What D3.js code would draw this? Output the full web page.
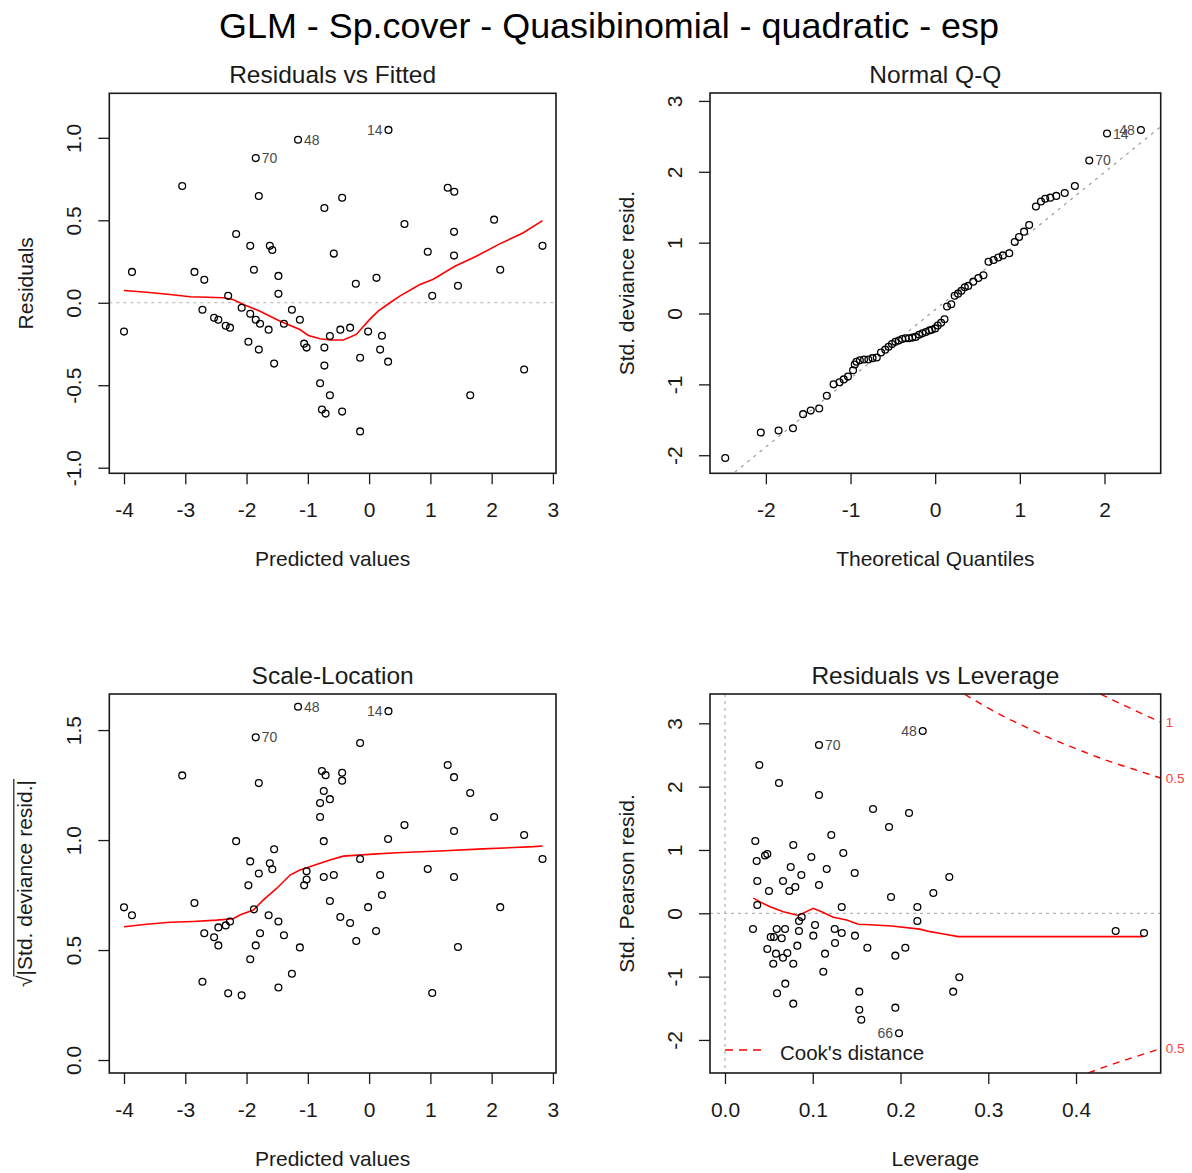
<!DOCTYPE html>
<html>
<head>
<meta charset="utf-8">
<script src="https://cdn.jsdelivr.net/npm/d3@7"></script>
<style>
  body { margin: 0; background: #ffffff; }
  svg { display: block; }
</style>
</head>
<body>
<svg id="chart" width="1192" height="1173"></svg>
<script>
// ---------- Residuals vs Fitted ----------
const residPoints = [
  [-4.00,-0.175],[-3.87,0.187],[-3.05,0.708],[-2.85,0.187],[-2.69,0.139],[-2.72,-0.042],
  [-2.53,-0.091],[-2.46,-0.103],[-2.34,-0.139],[-2.27,-0.151],[-2.30,0.042],[-2.17,0.417],
  [-2.08,-0.030],[-1.97,-0.236],[-1.94,0.345],[-1.94,-0.067],[-1.88,0.200],[-1.85,0.877],
  [-1.80,0.647],[-1.85,-0.103],[-1.78,-0.127],[-1.80,-0.284],[-1.64,-0.163],[-1.62,0.345],
  [-1.58,0.320],[-1.55,-0.369],[-1.48,0.163],[-1.48,0.054],[-1.39,-0.127],[-1.26,-0.042],
  [-1.13,-0.103],[-1.16,0.988],[-1.06,-0.248],[-1.02,-0.272],[-0.80,-0.488],[-0.77,-0.647],
  [-0.71,-0.672],[-0.73,0.575],[-0.73,-0.272],[-0.73,-0.381],[-0.64,-0.202],[-0.64,-0.561],
  [0.316,1.048],[1.283,0.697],[1.39,0.673],[-0.44,0.637],[2.04,0.504],[0.577,0.478],
  [1.386,0.430],[2.83,0.345],[-0.576,0.298],[0.957,0.309],[1.386,0.286],[2.14,0.200],
  [-0.217,0.115],[0.12,0.151],[1.45,0.103],[1.03,0.042],[-0.47,-0.163],[-0.31,-0.151],
  [-0.016,-0.175],[0.21,-0.200],[0.18,-0.284],[-0.147,-0.333],[0.31,-0.357],[2.53,-0.405],
  [1.65,-0.561],[-0.44,-0.660],[-0.147,-0.780]
];
const residSmooth = [
  [-4.0,0.074],[-3.63,0.064],[-3.25,0.050],[-2.92,0.036],[-2.38,0.030],[-2.22,0.020],
  [-2.05,-0.010],[-1.78,-0.051],[-1.46,-0.111],[-1.13,-0.162],[-0.99,-0.198],[-0.80,-0.218],
  [-0.64,-0.226],[-0.42,-0.226],[-0.21,-0.192],[0.01,-0.101],[0.147,-0.051],[0.34,0.0],
  [0.50,0.040],[0.83,0.111],[1.04,0.141],[1.40,0.221],[1.75,0.282],[2.13,0.357],
  [2.51,0.423],[2.83,0.498]
];
const residIds = [
  {id: "70", x: -1.85, y: 0.877}, {id: "48", x: -1.16, y: 0.988}, {id: "14", x: 0.316, y: 1.048}
];

// ---------- Normal Q-Q ----------
const qqPoints = [
  [-2.48,-2.04],[-2.06,-1.68],[-1.85,-1.65],[-1.68,-1.62],[-1.56,-1.42],[-1.47,-1.37],
  [-1.37,-1.34],[-1.28,-1.16],[-1.20,-1.00],[-1.13,-0.97],[-1.08,-0.93],[-1.03,-0.89],
  [-0.97,-0.80],[-0.95,-0.72],[-0.93,-0.68],[-0.89,-0.66],[-0.84,-0.65],[-0.79,-0.65],
  [-0.74,-0.63],[-0.69,-0.62],[-0.64,-0.55],[-0.59,-0.51],[-0.55,-0.47],[-0.51,-0.43],
  [-0.47,-0.40],[-0.43,-0.38],[-0.39,-0.36],[-0.35,-0.35],[-0.31,-0.35],[-0.27,-0.34],
  [-0.23,-0.33],[-0.19,-0.30],[-0.15,-0.28],[-0.11,-0.26],[-0.07,-0.24],[-0.04,-0.23],
  [0.00,-0.21],[0.03,-0.17],[0.07,-0.13],[0.11,-0.08],[0.14,0.10],[0.19,0.13],
  [0.23,0.25],[0.27,0.28],[0.31,0.32],[0.35,0.37],[0.39,0.39],[0.45,0.45],
  [0.51,0.50],[0.57,0.54],[0.63,0.73],[0.69,0.755],[0.745,0.79],[0.80,0.82],
  [0.875,0.85],[0.94,1.01],[0.99,1.08],[1.05,1.155],[1.11,1.25],[1.19,1.51],
  [1.25,1.58],[1.30,1.62],[1.36,1.635],[1.43,1.66],[1.53,1.70],[1.65,1.80],
  [1.82,2.16],[2.03,2.54],[2.43,2.59]
];
const qqLine = {intercept: 0.055, slope: 0.969};
const qqIds = [
  {id: "70", x: 1.82, y: 2.16}, {id: "14", x: 2.03, y: 2.54}, {id: "48", x: 2.43, y: 2.59}
];

// ---------- Scale-Location ----------
const scalePoints = [
  [-4.00,0.694],[-3.87,0.658],[-3.05,1.294],[-2.85,0.714],[-2.72,0.356],[-2.69,0.576],
  [-2.53,0.558],[-2.46,0.521],[-2.46,0.603],[-2.34,0.612],[-2.27,0.630],[-2.30,0.303],
  [-2.17,0.995],[-2.08,0.294],[-1.97,0.794],[-1.94,0.903],[-1.94,0.458],[-1.88,0.685],
  [-1.85,1.467],[-1.80,1.259],[-1.85,0.521],[-1.80,0.848],[-1.78,0.576],[-1.64,0.658],
  [-1.62,0.894],[-1.58,0.867],[-1.55,0.958],[-1.48,0.630],[-1.48,0.330],[-1.39,0.567],
  [-1.26,0.392],[-1.13,0.512],[-1.16,1.606],[-1.06,0.794],[-1.02,0.821],[-1.02,0.858],
  [-0.77,1.314],[-0.71,1.295],[-0.74,1.223],[-0.64,1.186],[-0.80,1.168],[-0.80,1.105],
  [-0.74,0.995],[-0.74,0.832],[-0.64,0.723],
  [0.316,1.586],[-0.147,1.441],[-0.44,1.306],[-0.44,1.270],[1.283,1.341],[1.386,1.286],
  [1.65,1.214],[2.04,1.105],[0.577,1.068],[1.386,1.041],[2.53,1.023],[0.31,1.005],
  [-0.147,0.914],[2.83,0.914],[0.957,0.868],[-0.576,0.841],[0.18,0.841],[1.386,0.832],
  [0.21,0.750],[-0.016,0.695],[2.14,0.695],[-0.47,0.650],[-0.31,0.623],[0.114,0.586],
  [-0.21,0.541],[1.45,0.514],[1.03,0.305]
];
const scaleSmooth = [
  [-4.0,0.606],[-3.63,0.617],[-3.25,0.626],[-2.87,0.630],[-2.49,0.636],[-2.22,0.642],
  [-2.11,0.659],[-1.89,0.682],[-1.73,0.727],[-1.51,0.780],[-1.29,0.841],[-1.13,0.864],
  [-0.97,0.879],[-0.64,0.909],[-0.42,0.927],[0.065,0.936],[0.45,0.942],[1.15,0.950],
  [1.86,0.960],[2.68,0.970],[2.83,0.973]
];
const scaleIds = [
  {id: "70", x: -1.85, y: 1.467}, {id: "48", x: -1.16, y: 1.606}, {id: "14", x: 0.316, y: 1.586}
];

// ---------- Residuals vs Leverage ----------
const leveragePoints = [
  [0.2253,2.878],[0.1071,2.657],[0.0391,2.342],[0.0615,2.057],[0.1071,1.868],[0.1687,1.647],
  [0.2097,1.584],[0.1869,1.363],[0.1211,1.236],[0.0345,1.142],[0.0778,1.079],[0.1348,0.952],
  [0.0456,0.912],[0.0482,0.937],[0.0361,0.826],[0.0984,0.889],[0.0749,0.731],[0.1159,0.700],
  [0.1478,0.636],[0.0870,0.605],[0.0368,0.510],[0.0661,0.510],[0.1071,0.447],[0.0801,0.415],
  [0.0733,0.352],[0.0501,0.352],[0.1892,0.257],[0.0368,0.131],[0.1330,0.099],[0.2192,0.099],
  [0.0874,-0.058],[0.0843,-0.122],[0.2192,-0.122],[0.0319,-0.248],[0.0589,-0.248],[0.0684,-0.248],
  [0.1026,-0.185],[0.0843,-0.280],[0.1250,-0.248],[0.1330,-0.311],[0.1006,-0.353],[0.0521,-0.374],
  [0.0558,-0.374],[0.0646,-0.395],[0.1481,-0.353],[0.1254,-0.469],[0.0824,-0.511],[0.0482,-0.564],
  [0.0581,-0.637],[0.0710,-0.627],[0.0661,-0.701],[0.0550,-0.796],[0.0778,-0.796],[0.1622,-0.543],
  [0.2055,-0.543],[0.1941,-0.669],[0.1140,-0.637],[0.1120,-0.922],[0.0687,-1.111],[0.0593,-1.263],
  [0.0778,-1.427],[0.1530,-1.237],[0.1530,-1.522],[0.1553,-1.680],[0.1941,-1.490],[0.1983,-1.895],
  [0.2556,0.573],[0.2374,0.321],[0.2670,-1.010],[0.2600,-1.237],[0.4452,-0.280],[0.4775,-0.311]
];
const leverageSmooth = [
  [0.0323,0.240],[0.040,0.180],[0.0513,0.104],[0.0665,0.025],[0.0836,-0.035],[0.1006,0.079],
  [0.110,0.025],[0.1234,-0.063],[0.1387,-0.106],[0.152,-0.174],[0.165,-0.180],[0.190,-0.200],
  [0.222,-0.250],[0.234,-0.290],[0.249,-0.327],[0.266,-0.369],[0.4767,-0.369]
];
const leverageIds = [
  {id: "70", x: 0.1071, y: 2.657}, {id: "48", x: 0.2253, y: 2.878}, {id: "66", x: 0.1983, y: -1.895}
];
// Cook's distance contours (0.5 and 1)
const cook05Upper = [
  [0.273,3.46],[0.28,3.40],[0.30,3.24],[0.32,3.09],[0.34,2.96],[0.36,2.83],[0.38,2.71],
  [0.40,2.60],[0.42,2.49],[0.44,2.39],[0.46,2.30],[0.48,2.21],[0.4965,2.136]
];
const cook1Upper = [
  [0.428,3.46],[0.44,3.38],[0.46,3.25],[0.48,3.12],[0.4965,3.02]
];
const cook05Lower = [
  [0.414,-2.52],[0.42,-2.49],[0.44,-2.39],[0.46,-2.30],[0.48,-2.21],[0.4965,-2.136]
];
const cookLabels = ["0.5", "1", "0.5"];

// ---------- axis limits and ticks ----------
const fittedLim = [-4.24, 3.05];
const residLim = [-1.034, 1.270];
const theoLim = [-2.66, 2.664];
const stdDevLim = [-2.255, 3.112];
const sqrtLim = [-0.059, 1.664];
const levLim = [-0.0171, 0.4965];
const pearsonLim = [-2.522, 3.463];

const fittedTicks = [-4, -3, -2, -1, 0, 1, 2, 3];
const residTicks = [-1, -0.5, 0, 0.5, 1];
const theoTicks = [-2, -1, 0, 1, 2];
const stdDevTicks = [-2, -1, 0, 1, 2, 3];
const sqrtTicks = [0, 0.5, 1, 1.5];
const levTicks = [0, 0.1, 0.2, 0.3, 0.4];
const pearsonTicks = [-2, -1, 0, 1, 2, 3];

const mainTitle = "GLM - Sp.cover - Quasibinomial - quadratic - esp";

// ---------- drawing ----------
const FONT = '"Liberation Sans", Arial, Helvetica, sans-serif';
const INK = "#1a1a1a";
const TICK = 11;
const svg = d3.select("#chart");
const defs = svg.append("defs");

const fmt1 = v => d3.format(".1f")(v).replace("\u2212", "-");
const fmt0 = v => d3.format("d")(v).replace("\u2212", "-");

const layout = {
  rf: {left: 109.3, right: 556, top: 93.3, bottom: 473.3},
  qq: {left: 710, right: 1160.7, top: 93, bottom: 473.3},
  sl: {left: 109.3, right: 556, top: 694, bottom: 1073},
  rl: {left: 710, right: 1160.7, top: 694, bottom: 1073}
};

function makePanel(id, b, xLim, yLim, xTicks, yTicks, xFmt, yFmt, title, xLab, yLab) {
  const x = d3.scaleLinear().domain(xLim).range([b.left, b.right]);
  const y = d3.scaleLinear().domain(yLim).range([b.bottom, b.top]);
  defs.append("clipPath").attr("id", "clip-" + id)
    .append("rect").attr("x", b.left).attr("y", b.top)
    .attr("width", b.right - b.left).attr("height", b.bottom - b.top);
  const g = svg.append("g");
  const plot = g.append("g").attr("clip-path", `url(#clip-${id})`);

  const ax = g.append("g").attr("transform", `translate(0,${b.bottom})`)
    .call(d3.axisBottom(x).tickValues(xTicks).tickSize(TICK).tickPadding(18).tickFormat(xFmt));
  const ay = g.append("g").attr("transform", `translate(${b.left},0)`)
    .call(d3.axisLeft(y).tickValues(yTicks).tickSize(TICK).tickFormat(yFmt));
  [ax, ay].forEach(a => {
    a.select(".domain").remove();
    a.attr("font-family", FONT).attr("font-size", 21);
    a.selectAll(".tick line").attr("stroke", INK).attr("stroke-width", 1.3);
    a.selectAll(".tick text").attr("fill", INK);
  });
  ay.selectAll(".tick text")
    .attr("transform", "rotate(-90)")
    .attr("x", 0).attr("y", -36).attr("dy", null)
    .attr("text-anchor", "middle").attr("dominant-baseline", "central");

  const cx = (b.left + b.right) / 2, cy = (b.top + b.bottom) / 2;
  g.append("text").attr("x", cx).attr("y", b.top - 19)
    .attr("text-anchor", "middle").attr("dominant-baseline", "central")
    .attr("font-family", FONT).attr("font-size", 24.5).attr("fill", INK).text(title);
  g.append("text").attr("x", cx).attr("y", b.bottom + 85)
    .attr("text-anchor", "middle").attr("dominant-baseline", "central")
    .attr("font-family", FONT).attr("font-size", 21).attr("fill", INK).text(xLab);
  const yl = g.append("g").attr("transform", `translate(${b.left - 84},${cy}) rotate(-90)`);
  yLab(yl);

  const frame = g.append("rect").attr("x", b.left).attr("y", b.top)
    .attr("width", b.right - b.left).attr("height", b.bottom - b.top)
    .attr("fill", "none").attr("stroke", INK).attr("stroke-width", 1.6);
  return {x, y, g, plot, b, frame};
}

function plainLabel(s) {
  return sel => sel.append("text").attr("x", 0).attr("y", 0)
    .attr("text-anchor", "middle").attr("dominant-baseline", "central")
    .attr("font-family", FONT).attr("font-size", 21).attr("fill", INK).text(s);
}

// square root of |...| with overbar
function sqrtLabel(s) {
  return sel => {
    const t = sel.append("text").attr("x", 0).attr("y", 7)
      .attr("text-anchor", "middle")
      .attr("font-family", FONT).attr("font-size", 21).attr("fill", INK);
    t.append("tspan").text("\u221A");
    t.append("tspan").text(s);
    const node = t.node();
    const total = node.getComputedTextLength();
    const rad = node.getSubStringLength(0, 1);
    sel.append("line")
      .attr("x1", -total / 2 + rad * 0.9).attr("x2", total / 2 + 1)
      .attr("y1", -11.5).attr("y2", -11.5)
      .attr("stroke", INK).attr("stroke-width", 1.2);
  };
}

function drawPoints(p, data) {
  p.g.append("g").selectAll("circle").data(data).join("circle")
    .attr("cx", d => p.x(d[0])).attr("cy", d => p.y(d[1]))
    .attr("r", 3.4).attr("fill", "none").attr("stroke", "#000").attr("stroke-width", 1.3);
}

function drawSmooth(p, data) {
  p.plot.append("path").datum(data)
    .attr("d", d3.line().x(d => p.x(d[0])).y(d => p.y(d[1])))
    .attr("fill", "none").attr("stroke", "#ff0000").attr("stroke-width", 1.6);
}

function hGuide(p, v) {
  p.plot.append("line").attr("x1", p.b.left).attr("x2", p.b.right)
    .attr("y1", p.y(v)).attr("y2", p.y(v))
    .attr("stroke", "#b3b3b3").attr("stroke-width", 1.2).attr("stroke-dasharray", "3,4");
}

function vGuide(p, v) {
  p.plot.append("line").attr("y1", p.b.top).attr("y2", p.b.bottom)
    .attr("x1", p.x(v)).attr("x2", p.x(v))
    .attr("stroke", "#b3b3b3").attr("stroke-width", 1.2).attr("stroke-dasharray", "3,4");
}

// labels go right of the point, or left when the point lies in the right half of the labelled range
function idLabels(p, ids) {
  const xs = ids.map(d => d.x);
  const mid = (d3.min(xs) + d3.max(xs)) / 2;
  p.g.append("g").selectAll("text").data(ids).join("text")
    .attr("x", d => p.x(d.x) + (d.x > mid ? -6 : 6))
    .attr("y", d => p.y(d.y))
    .attr("text-anchor", d => d.x > mid ? "end" : "start")
    .attr("dominant-baseline", "central")
    .attr("font-family", FONT).attr("font-size", 14).attr("fill", "#4a4a4a")
    .text(d => d.id);
}

// main title
svg.append("text").attr("x", 609).attr("y", 26)
  .attr("text-anchor", "middle").attr("dominant-baseline", "central")
  .attr("font-family", FONT).attr("font-size", 35.9).attr("fill", "#000").text(mainTitle);

// Residuals vs Fitted
const p1 = makePanel("rf", layout.rf, fittedLim, residLim, fittedTicks, residTicks, fmt0, fmt1,
  "Residuals vs Fitted", "Predicted values", plainLabel("Residuals"));
hGuide(p1, 0);
drawSmooth(p1, residSmooth);
drawPoints(p1, residPoints);
idLabels(p1, residIds);

// Normal Q-Q
const p2 = makePanel("qq", layout.qq, theoLim, stdDevLim, theoTicks, stdDevTicks, fmt0, fmt0,
  "Normal Q-Q", "Theoretical Quantiles", plainLabel("Std. deviance resid."));
p2.plot.append("line")
  .attr("x1", p2.x(theoLim[0])).attr("y1", p2.y(qqLine.intercept + qqLine.slope * theoLim[0]))
  .attr("x2", p2.x(theoLim[1])).attr("y2", p2.y(qqLine.intercept + qqLine.slope * theoLim[1]))
  .attr("stroke", "#9a9a9a").attr("stroke-width", 1.2).attr("stroke-dasharray", "3,5");
drawPoints(p2, qqPoints);
idLabels(p2, qqIds);

// Scale-Location
const p3 = makePanel("sl", layout.sl, fittedLim, sqrtLim, fittedTicks, sqrtTicks, fmt0, fmt1,
  "Scale-Location", "Predicted values", sqrtLabel("|Std. deviance resid.|"));
drawSmooth(p3, scaleSmooth);
drawPoints(p3, scalePoints);
idLabels(p3, scaleIds);

// Residuals vs Leverage
const p4 = makePanel("rl", layout.rl, levLim, pearsonLim, levTicks, pearsonTicks, fmt1, fmt0,
  "Residuals vs Leverage", "Leverage", plainLabel("Std. Pearson resid."));
hGuide(p4, 0);
vGuide(p4, 0);
const cookLine = d3.line().curve(d3.curveMonotoneX).x(d => p4.x(d[0])).y(d => p4.y(d[1]));
const cookCurves = [cook05Upper, cook1Upper, cook05Lower];
cookCurves.forEach(c => {
  p4.plot.append("path").datum(c).attr("d", cookLine)
    .attr("fill", "none").attr("stroke", "#ff0000").attr("stroke-width", 1.4)
    .attr("stroke-dasharray", "7,6");
});
drawSmooth(p4, leverageSmooth);
drawPoints(p4, leveragePoints);
idLabels(p4, leverageIds);
cookCurves.forEach((c, i) => {
  const last = c[c.length - 1];
  p4.g.append("text").attr("x", p4.b.right + 5).attr("y", p4.y(last[1]))
    .attr("dominant-baseline", "central").attr("font-family", FONT)
    .attr("font-size", 13.5).attr("fill", "#ff4040").text(cookLabels[i]);
});
// legend
const legY = p4.b.bottom - 23;
p4.g.append("line").attr("x1", p4.b.left + 15).attr("x2", p4.b.left + 55)
  .attr("y1", legY).attr("y2", legY)
  .attr("stroke", "#ff0000").attr("stroke-width", 1.4).attr("stroke-dasharray", "8,6");
p4.g.append("text").attr("x", p4.b.left + 70).attr("y", legY + 2)
  .attr("dominant-baseline", "central").attr("font-family", FONT)
  .attr("font-size", 20.5).attr("fill", INK).text("Cook's distance");
</script>
</body>
</html>
